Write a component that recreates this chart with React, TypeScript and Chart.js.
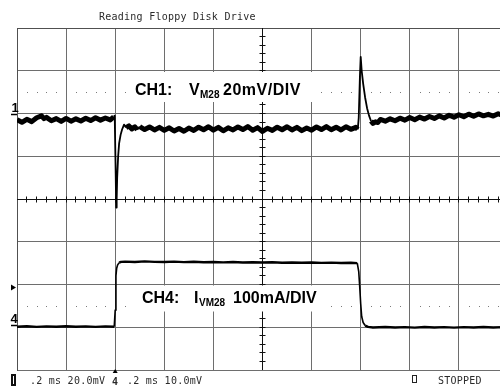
import { useEffect, useRef } from 'react';
import { Chart, registerables } from 'chart.js';

Chart.register(...registerables);

// ---- axes (oscilloscope settings) ----
const TITLE = 'Reading Floppy Disk Drive';
const TIME_MIN = -0.4; // ms (trigger at 0)
const TIME_MAX = 1.6;
const TIME_STEP = 0.2; // ms / div
const CH1_MIN = -120; // mV
const CH1_MAX = 40;
const CH1_STEP = 20; // mV / div
const CH4_MIN = -100; // mA
const CH4_MAX = 700;
const CH1_CENTER = -40; // value at screen centre line
const CENTER_TIME = 0.6;
const CH1_DOT_LEVEL = 10;
const CH4_DOT_LEVEL = 50;
const TRIGGER_LEVEL = 93; // mA

const CH1_LABEL = ['CH1:', 'V', 'M28', '20mV/DIV'];
const CH4_LABEL = ['CH4:', 'I', 'VM28', '100mA/DIV'];
const STATUS_CH1 = '.2 ms 20.0mV';
const STATUS_CH4 = '.2 ms 10.0mV';
const STATUS_RUN = 'STOPPED';

// ---- CH1: V_M28 (mV) ----
const ch1Time = [
  -0.4, -0.38, -0.36, -0.34, -0.32, -0.3, -0.29, -0.28, -0.26, -0.24, -0.22, -0.2, -0.18, -0.16, -0.14, -0.12, -0.1,
  -0.08, -0.06, -0.04, -0.02, -0.006, -0.002, 0.002, 0.004, 0.006, 0.008, 0.012, 0.016, 0.022, 0.028, 0.036, 0.044,
  0.056, 0.068, 0.08, 0.09, 0.1, 0.12, 0.14, 0.16, 0.18, 0.2, 0.22, 0.24, 0.26, 0.28, 0.3, 0.32, 0.34, 0.36, 0.38,
  0.4, 0.42, 0.44, 0.46, 0.48, 0.5, 0.52, 0.54, 0.56, 0.58, 0.6, 0.62, 0.64, 0.66, 0.68, 0.7, 0.72, 0.74, 0.76, 0.78,
  0.8, 0.82, 0.84, 0.86, 0.88, 0.9, 0.92, 0.94, 0.96, 0.98, 0.988, 0.992, 0.997, 1.0, 1.004, 1.01, 1.018, 1.026,
  1.034, 1.042, 1.05, 1.06, 1.07, 1.08, 1.1, 1.12, 1.14, 1.16, 1.18, 1.2, 1.22, 1.24, 1.26, 1.28, 1.3, 1.32, 1.34,
  1.36, 1.38, 1.4, 1.42, 1.44, 1.46, 1.48, 1.5, 1.52, 1.54, 1.56, 1.58, 1.6,
];
const ch1Values = [
  -2.9, -4.1, -2.7, -3.8, -2.0, -1.1, -2.4, -1.8, -3.4, -2.4, -3.7, -2.3, -3.6, -2.5, -3.5, -2.2, -3.3,
  -2.0, -3.1, -2.1, -3.0, -1.6, -1.0, -28, -44, -40, -30, -20, -14, -10, -7.5, -5.2, -6.6,
  -5.8, -7.2, -6.2, -7.6, -6.1, -7.5, -6.3, -7.7, -6.5, -7.9, -6.7, -8.2, -7.0, -8.3, -6.8, -7.9, -6.4, -7.6, -6.2,
  -7.8, -6.5, -8.1, -6.7, -7.7, -6.3, -7.5, -6.1, -7.8, -6.6, -8.4, -6.9, -7.9, -6.4, -7.6, -6.2, -7.7, -6.5, -8.0, -6.8,
  -7.8, -6.3, -7.5, -6.1, -7.6, -6.4, -7.7, -6.2, -7.4, -6.5, -7.4, -2, 18, 26.5, 20, 14, 7.5, 2.5,
  -1.0, -3.5, -4.6, -3.9, -4.2, -2.8, -3.6, -2.5, -3.4, -2.2, -3.1, -1.9, -2.9, -1.7, -2.6, -1.4, -2.3, -1.1, -2.1,
  -0.8, -1.7, -0.6, -1.5, -0.3, -1.3, -0.2, -1.1, -0.4, -1.2, -0.1, -1.0, -0.3,
];

// ---- CH4: I_VM28 (mA) ----
const ch4Time = [
  -0.4, -0.36, -0.32, -0.28, -0.24, -0.2, -0.16, -0.12, -0.08, -0.04, -0.004, 0.0, 0.003, 0.006, 0.01, 0.016, 0.024,
  0.04, 0.08, 0.12, 0.16, 0.2, 0.24, 0.28, 0.32, 0.36, 0.4, 0.44, 0.48, 0.52, 0.56, 0.6, 0.64, 0.68, 0.72, 0.76, 0.8,
  0.84, 0.88, 0.92, 0.96, 0.986, 0.992, 0.996, 1.0, 1.004, 1.01, 1.018, 1.03, 1.05, 1.1, 1.14, 1.18, 1.22, 1.26, 1.3,
  1.34, 1.38, 1.42, 1.46, 1.5, 1.54, 1.58, 1.6,
];
const ch4Values = [
  1.2, 2.2, 0.9, 2.0, 1.0, 2.3, 1.1, 2.1, 0.8, 2.0, 1.3, 40, 120, 138, 146, 151, 153,
  153.5, 152.5, 154, 153, 152.8, 153.6, 152.4, 153.2, 152.2, 152.8, 151.8, 152.6, 151.6, 152.2, 151.4, 151.9, 151.0, 151.6, 150.8, 151.4,
  150.6, 151.2, 150.4, 151.0, 150.0, 130, 95, 55, 25, 11, 4, 1, -0.5, 0.6, -0.7, 0.4, -0.8, 0.5, -0.6,
  0.3, -0.9, 0.4, -0.5, 0.6, -0.7, 0.2, -0.4,
];

const MONO = '"DejaVu Sans Mono", monospace';
const SANS = '"Liberation Sans", Arial, sans-serif';

const scopePlugin = {
  id: 'scope',
  beforeDatasetsDraw(chart: any) {
    const { ctx, scales } = chart;
    const x = scales.x;
    const y1 = scales.y1;
    const y4 = scales.y4;
    const area = chart.chartArea;
    ctx.save();
    // dotted rows
    ctx.fillStyle = '#7a7a7a';
    const dotRows = [y1.getPixelForValue(CH1_DOT_LEVEL), y4.getPixelForValue(CH4_DOT_LEVEL)];
    for (const py of dotRows) {
      for (let k = 1; k < 50; k++) {
        if (k % 5 === 0) continue;
        const px = x.getPixelForValue(TIME_MIN + (k * TIME_STEP) / 5);
        ctx.fillRect(Math.round(px), Math.round(py), 1, 1);
      }
    }
    // centre axes with minor ticks
    const xc = Math.round(x.getPixelForValue(CENTER_TIME) - 0.5) + 0.5;
    const yc = Math.round(y1.getPixelForValue(CH1_CENTER) - 0.5) + 0.5;
    ctx.strokeStyle = '#111';
    ctx.lineWidth = 1;
    ctx.beginPath();
    ctx.moveTo(area.left, yc);
    ctx.lineTo(area.right, yc);
    ctx.moveTo(xc, area.top);
    ctx.lineTo(xc, area.bottom);
    for (let k = 1; k < 50; k++) {
      const px = Math.round(x.getPixelForValue(TIME_MIN + (k * TIME_STEP) / 5) - 0.5) + 0.5;
      ctx.moveTo(px, yc - 3);
      ctx.lineTo(px, yc + 3);
    }
    for (let k = 1; k < 40; k++) {
      const py = Math.round(y1.getPixelForValue(CH1_MIN + (k * CH1_STEP) / 5) - 0.5) + 0.5;
      ctx.moveTo(xc - 3, py);
      ctx.lineTo(xc + 3, py);
    }
    ctx.stroke();
    ctx.restore();
  },
  afterDraw(chart: any) {
    const { ctx, scales } = chart;
    const x = scales.x;
    const y1 = scales.y1;
    const y4 = scales.y4;
    const area = chart.chartArea;
    ctx.save();
    // label boxes
    ctx.fillStyle = '#fff';
    ctx.fillRect(129, 72, 190, 30);
    ctx.fillRect(129, 285.5, 197, 26);
    ctx.fillStyle = '#000';
    ctx.textBaseline = 'alphabetic';
    ctx.font = `bold 16px ${SANS}`;
    ctx.fillText(CH1_LABEL[0], 135, 95);
    ctx.fillText(CH1_LABEL[1], 189, 95);
    (ctx as any).letterSpacing = '0.5px';
    ctx.fillText(CH1_LABEL[3], 223, 95);
    (ctx as any).letterSpacing = '0px';
    ctx.fillText(CH4_LABEL[0], 142, 303);
    ctx.fillText(CH4_LABEL[1], 194, 303);
    ctx.fillText(CH4_LABEL[3], 233, 303);
    ctx.font = `bold 10px ${SANS}`;
    ctx.fillText(CH1_LABEL[2], 200, 97.5);
    ctx.fillText(CH4_LABEL[2], 199, 305.5);

    // channel markers
    const g1 = Math.round(y1.getPixelForValue(0)) + 0.5;
    const g4 = Math.round(y4.getPixelForValue(0)) - 1.5;
    ctx.font = `bold 13px ${SANS}`;
    ctx.fillText('1', 11.5, 111.5);
    ctx.fillText('4', 10.5, 323);
    ctx.strokeStyle = '#000';
    ctx.lineWidth = 1.5;
    ctx.beginPath();
    ctx.moveTo(11, g1);
    ctx.lineTo(area.left, g1);
    ctx.moveTo(11, g4);
    ctx.lineTo(area.left, g4);
    ctx.stroke();
    // trigger level arrow
    const tl = y4.getPixelForValue(TRIGGER_LEVEL);
    ctx.beginPath();
    ctx.moveTo(11, tl - 3);
    ctx.lineTo(16, tl);
    ctx.lineTo(11, tl + 3);
    ctx.closePath();
    ctx.fill();
    // trigger time marker
    const tp = x.getPixelForValue(0);
    ctx.beginPath();
    ctx.moveTo(tp, area.bottom - 1);
    ctx.lineTo(tp + 2.5, area.bottom + 3);
    ctx.lineTo(tp - 2.5, area.bottom + 3);
    ctx.closePath();
    ctx.fill();

    // title
    ctx.fillStyle = '#2a2a2a';
    ctx.font = `10px ${MONO}`;
    (ctx as any).letterSpacing = '0.25px';
    ctx.fillText(TITLE, 99, 19.5);
    // status line
    ctx.fillText(STATUS_CH1, 30, 384);
    ctx.fillText(STATUS_CH4, 127, 384);
    ctx.fillText(STATUS_RUN, 438, 384);
    (ctx as any).letterSpacing = '0px';
    ctx.font = `bold 10px ${MONO}`;
    ctx.fillText('4', 112, 385);
    ctx.fillStyle = '#111';
    ctx.fillRect(11, 374, 5, 12);
    ctx.fillStyle = '#fff';
    ctx.fillRect(13, 376, 1, 8);
    ctx.strokeStyle = '#222';
    ctx.lineWidth = 1;
    ctx.strokeRect(412.5, 375.5, 4, 7);
    ctx.restore();
  },
};

// steep (edge) segments are drawn thin, flat noisy segments thick
const slope = (c: any) => Math.abs(c.p1.y - c.p0.y) / Math.max(0.01, Math.abs(c.p1.x - c.p0.x));

export default function App() {
  const ref = useRef<HTMLCanvasElement | null>(null);
  useEffect(() => {
    if (!ref.current) return;
    const gridColor = '#6e6e6e';
    const chart = new Chart(ref.current, {
      type: 'line',
      data: {
        datasets: [
          {
            label: 'CH1',
            data: ch1Time.map((t, i) => ({ x: t, y: ch1Values[i] })),
            yAxisID: 'y1',
            borderColor: '#000',
            borderWidth: 5,
            borderJoinStyle: 'round',
            pointRadius: 0,
            tension: 0,
            segment: { borderWidth: (c: any) => (slope(c) > 1.3 ? 1.8 : 5) },
          },
          {
            label: 'CH4',
            data: ch4Time.map((t, i) => ({ x: t, y: ch4Values[i] })),
            yAxisID: 'y4',
            borderColor: '#000',
            borderWidth: 2.4,
            borderJoinStyle: 'round',
            pointRadius: 0,
            tension: 0,
            segment: { borderWidth: (c: any) => (slope(c) > 1.3 ? 1.6 : 2.4) },
          },
        ],
      },
      options: {
        animation: false,
        responsive: false,
        events: [],
        layout: { padding: { left: 17, top: 28, right: 2, bottom: 18 } },
        plugins: { legend: { display: false }, tooltip: { enabled: false }, title: { display: false } },
        scales: {
          x: {
            type: 'linear',
            min: TIME_MIN,
            max: TIME_MAX,
            ticks: { display: false, stepSize: TIME_STEP },
            grid: {
              drawTicks: false,
              color: (c: any) => (Math.abs(c.tick.value - TIME_MIN) < 1e-6 ? '#505050' : gridColor),
              lineWidth: 1,
            },
            border: { display: true, color: gridColor, width: 1 },
          },
          y1: {
            type: 'linear',
            position: 'left',
            min: CH1_MIN,
            max: CH1_MAX,
            ticks: { display: false, stepSize: CH1_STEP },
            grid: {
              drawTicks: false,
              color: (c: any) => (Math.abs(c.tick.value - CH1_MAX) < 1e-6 ? '#505050' : gridColor),
              lineWidth: 1,
            },
            border: { display: true, color: '#505050', width: 1 },
          },
          y4: {
            type: 'linear',
            display: false,
            min: CH4_MIN,
            max: CH4_MAX,
          },
        },
      } as any,
      plugins: [scopePlugin],
    });
    return () => chart.destroy();
  }, []);
  return (
    <div style={{ position: 'fixed', left: 0, top: 0, width: 500, height: 388, overflow: 'hidden', background: '#fff' }}>
      <canvas ref={ref} width={510} height={388} style={{ display: 'block', width: 510, height: 388 }} />
    </div>
  );
}
